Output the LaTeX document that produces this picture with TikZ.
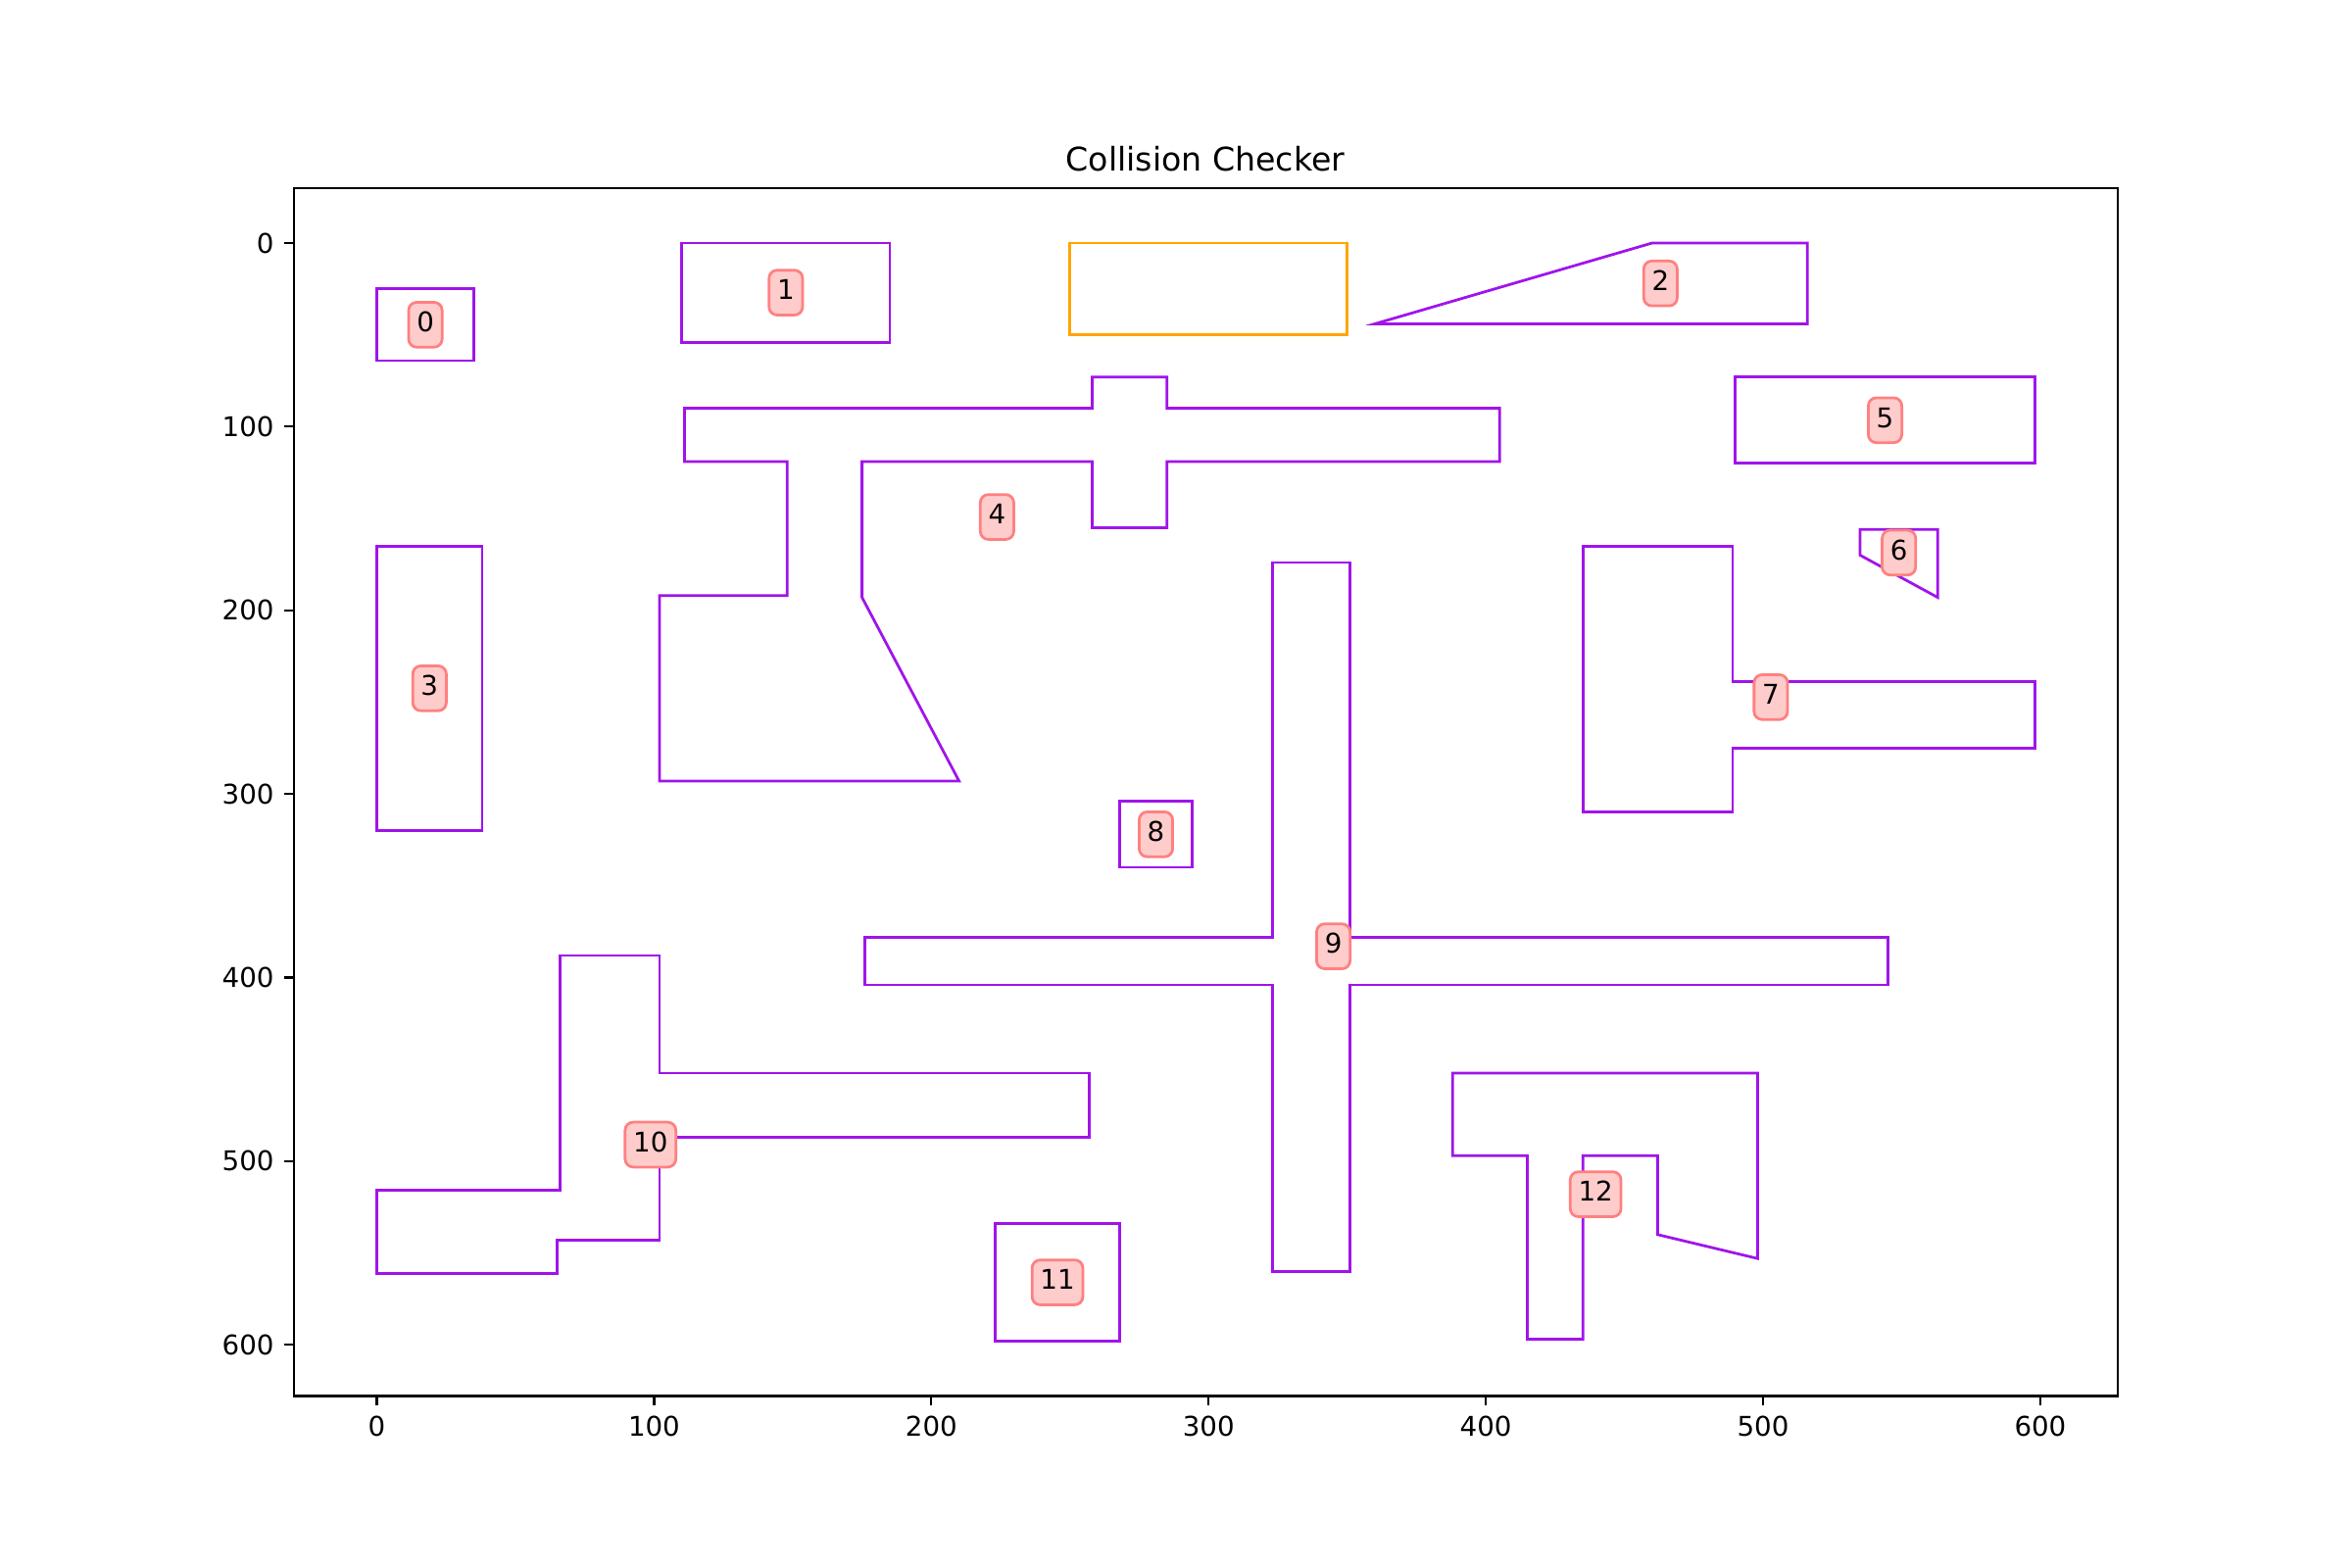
\documentclass[tikz,border=0pt]{standalone}
\usepackage{fontspec}
\setmainfont{DejaVu Sans}
\definecolor{obst}{RGB}{160,20,235}
\definecolor{robotc}{RGB}{255,165,0}
\definecolor{tagfill}{RGB}{255,204,204}
\definecolor{tagedge}{RGB}{255,128,128}
\begin{document}
\begin{tikzpicture}[
  obstacle/.style={draw=obst, line width=1pt, line join=miter},
  robot/.style={draw=robotc, line width=1pt, line join=miter},
  tag/.style={draw=tagedge, fill=tagfill, line width=1pt, rounded corners=3pt,
    inner xsep=3pt, inner ysep=3.6pt, text height=7.3pt, text depth=2.05pt,
    font=\fontsize{10}{12}\selectfont},
  tickmark/.style={line width=0.8pt, draw=black},
  ticklabel/.style={inner sep=0pt, font=\fontsize{10}{12}\selectfont},
  frame/.style={line width=0.8pt, draw=black, line join=miter}
]
\useasboundingbox (0,0) rectangle (12in,8in);
\fill[white] (0,0) rectangle (12in,8in);

\node[anchor=base, inner sep=0pt, font=\fontsize{12}{14}\selectfont] (title) at (6.15in,7.125in) {Collision Checker};

% plot area in data units (y grows downward)
\begin{scope}[shift={(1.92273in,6.76in)}, x=0.0141381in, y=-0.00936455in]

  % robot footprint
  \draw[robot] (250,0) rectangle (350,50);

  % obstacles
  \draw[obstacle] (0,25) rectangle (35,64);
  \draw[obstacle] (110,0) rectangle (185,54);
  \draw[obstacle] (360,44) -- (460,0) -- (516,0) -- (516,44) -- cycle;
  \draw[obstacle] (0,165) rectangle (38,320);
  \draw[obstacle] (111,90) -- (258,90) -- (258,73) -- (285,73) -- (285,90) -- (405,90)
    -- (405,119) -- (285,119) -- (285,155) -- (258,155) -- (258,119) -- (175,119)
    -- (175,193) -- (210,293) -- (102,293) -- (102,192) -- (148,192) -- (148,119)
    -- (111,119) -- cycle;
  \draw[obstacle] (490,73) rectangle (598,120);
  \draw[obstacle] (535,156) -- (563,156) -- (563,193) -- (535,170) -- cycle;
  \draw[obstacle] (435,165) -- (489,165) -- (489,239) -- (598,239) -- (598,275)
    -- (489,275) -- (489,310) -- (435,310) -- cycle;
  \draw[obstacle] (268,304) rectangle (294,340);
  \draw[obstacle] (176,378) -- (323,378) -- (323,174) -- (351,174) -- (351,378)
    -- (545,378) -- (545,404) -- (351,404) -- (351,560) -- (323,560) -- (323,404)
    -- (176,404) -- cycle;
  \draw[obstacle] (66,388) -- (102,388) -- (102,452) -- (257,452) -- (257,487)
    -- (102,487) -- (102,543) -- (65,543) -- (65,561) -- (0,561) -- (0,516)
    -- (66,516) -- cycle;
  \draw[obstacle] (223,534) rectangle (268,598);
  \draw[obstacle] (388,452) -- (498,452) -- (498,553) -- (462,540) -- (462,497)
    -- (435,497) -- (435,597) -- (415,597) -- (415,497) -- (388,497) -- cycle;

  % obstacle numbers
  \node[tag] (l0) at (17.5,44.5) {0};
  \node[tag] (l1) at (147.5,27) {1};
  \node[tag] (l2) at (463,22) {2};
  \node[tag] (l3) at (19,242.5) {3};
  \node[tag] (l4) at (223.7,149.2) {4};
  \node[tag] (l5) at (544,96.5) {5};
  \node[tag] (l6) at (549,168.6) {6};
  \node[tag] (l7) at (502.8,247.3) {7};
  \node[tag] (l8) at (281,322) {8};
  \node[tag] (l9) at (345,383) {9};
  \node[tag] (l10) at (98.7,491) {10};
  \node[tag] (l11) at (245.5,566) {11};
  \node[tag] (l12) at (439.6,518) {12};

  % ticks and tick labels
  \foreach \v in {0,100,...,600} {
    \draw[tickmark] (\v,627.9) -- ++(0,-3.5pt)
      node[ticklabel, anchor=north, yshift=-3.5pt] (xt\v) {\v};
    \draw[tickmark] (-29.9,\v) -- ++(-3.5pt,0)
      node[ticklabel, anchor=east, xshift=-3.5pt] (yt\v) {\v};
  }

  % axes frame
  \draw[frame] (-29.9,-29.9) rectangle (627.9,627.9);
\end{scope}
\end{tikzpicture}
\end{document}
